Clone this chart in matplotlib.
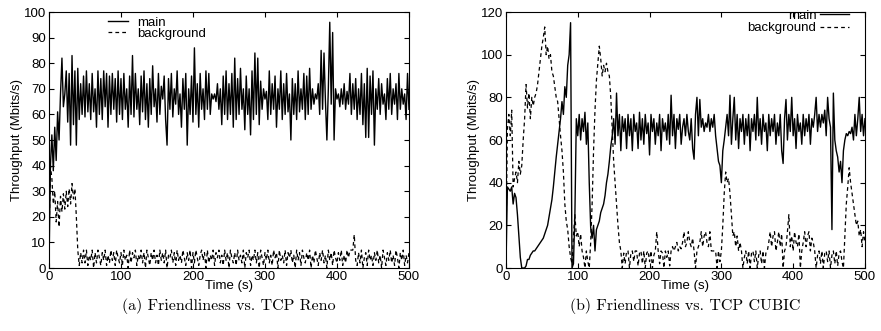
import matplotlib
matplotlib.use("Agg")
import matplotlib.pyplot as plt
import numpy as np

plt.rcParams["font.family"] = ["Liberation Sans", "DejaVu Sans"]

# Throughput samples (Mbits/s), one every 2 s from 0 to 500 s
reno_main = [
    0, 40, 52, 38, 55, 42, 61, 50, 68, 82, 63, 68, 77, 57, 76, 48, 83, 56, 77, 48, 78, 58, 72, 60, 75,
    59, 77, 61, 72, 58, 76, 61, 70, 55, 77, 60, 74, 58, 77, 63, 76, 55, 75, 60, 76, 62, 74, 57, 77, 60,
    74, 58, 76, 62, 70, 55, 75, 60, 83, 59, 76, 62, 70, 56, 75, 61, 77, 58, 72, 55, 74, 60, 79, 63, 70,
    57, 76, 60, 71, 66, 75, 58, 48, 74, 62, 76, 59, 70, 64, 77, 60, 68, 55, 74, 62, 76, 48, 70, 60, 75,
    57, 86, 60, 72, 55, 76, 62, 70, 58, 77, 62, 76, 60, 68, 66, 68, 65, 72, 62, 70, 56, 75, 60, 77, 58,
    72, 60, 76, 55, 82, 58, 74, 60, 78, 62, 70, 54, 75, 60, 70, 52, 77, 58, 84, 60, 82, 56, 73, 62, 70,
    66, 69, 58, 77, 60, 72, 62, 75, 55, 70, 62, 77, 58, 72, 60, 76, 61, 68, 50, 74, 60, 72, 58, 77, 61,
    70, 62, 76, 58, 75, 60, 78, 62, 70, 64, 68, 66, 72, 60, 85, 62, 84, 65, 50, 70, 96, 64, 92, 50, 70,
    66, 68, 63, 70, 64, 72, 62, 69, 64, 76, 60, 72, 62, 74, 58, 70, 60, 76, 56, 72, 51, 78, 51, 75, 60,
    77, 48, 70, 62, 74, 60, 72, 64, 68, 58, 74, 62, 76, 60, 70, 64, 72, 58, 76, 62, 70, 64, 68, 58, 76, 62,
]
reno_bg = [
    10, 40, 35, 25, 30, 18, 26, 16, 28, 22, 29, 23, 30, 24, 31, 25, 33, 27, 31, 20, 7, 1, 6, 2, 7,
    2, 7, 1, 5, 3, 7, 0, 6, 2, 7, 4, 1, 6, 3, 7, 1, 5, 2, 7, 3, 6, 1, 7, 4, 2,
    6, 1, 7, 3, 5, 0, 7, 2, 6, 4, 7, 1, 5, 3, 7, 2, 6, 0, 7, 4, 1, 6, 3, 7, 2,
    5, 1, 7, 3, 6, 2, 7, 0, 5, 4, 7, 2, 6, 1, 7, 3, 5, 2, 7, 4, 1, 6, 3, 7, 0,
    6, 2, 7, 4, 1, 5, 7, 3, 6, 0, 7, 2, 5, 3, 7, 1, 6, 4, 7, 2, 5, 1, 7, 3, 6,
    0, 7, 4, 2, 6, 1, 7, 3, 5, 2, 7, 0, 6, 4, 7, 1, 5, 3, 7, 2, 6, 0, 7, 4, 1,
    6, 3, 7, 2, 5, 1, 7, 4, 6, 0, 7, 3, 5, 2, 7, 1, 6, 4, 7, 2, 5, 0, 7, 3, 6,
    1, 7, 4, 2, 6, 3, 7, 0, 5, 2, 7, 4, 1, 6, 3, 7, 2, 5, 0, 7, 3, 6, 1, 7, 4,
    2, 6, 3, 7, 1, 5, 2, 7, 4, 7, 7, 7, 13, 3, 1, 6, 2, 7, 0, 4, 6, 1, 7, 3, 5,
    1, 6, 3, 7, 2, 5, 0, 7, 4, 1, 6, 3, 7, 2, 5, 1, 7, 4, 0, 6, 3, 7, 1, 5, 2, 6,
]
cubic_main = [
    0, 38, 37, 36, 38, 30, 35, 33, 25, 15, 5, 0, 0, 0, 1, 4, 4, 6, 7, 8, 8, 9, 10, 11, 12,
    13, 14, 16, 18, 20, 24, 28, 32, 38, 45, 52, 58, 64, 70, 78, 72, 85, 80, 95, 100, 115, 0, 2, 25, 70,
    62, 72, 60, 70, 64, 73, 58, 68, 40, 19, 14, 20, 8, 18, 20, 22, 26, 28, 30, 34, 40, 44, 50, 57, 62,
    70, 58, 82, 62, 72, 55, 71, 64, 70, 56, 72, 62, 70, 55, 72, 64, 68, 56, 73, 60, 70, 58, 72, 63, 68,
    53, 72, 64, 70, 58, 68, 62, 72, 55, 70, 64, 68, 60, 72, 58, 81, 62, 72, 56, 70, 65, 72, 58, 66, 70,
    62, 72, 64, 60, 70, 56, 51, 72, 80, 62, 79, 66, 70, 64, 68, 66, 72, 64, 70, 66, 72, 62, 56, 50, 48,
    40, 55, 60, 66, 72, 62, 81, 58, 70, 80, 60, 72, 56, 70, 64, 72, 58, 70, 62, 72, 55, 70, 64, 72, 60,
    80, 62, 70, 58, 72, 64, 68, 55, 72, 62, 70, 64, 72, 58, 68, 62, 72, 55, 49, 70, 79, 60, 72, 64, 80,
    62, 70, 56, 72, 64, 68, 58, 72, 62, 70, 64, 72, 58, 70, 66, 72, 80, 64, 72, 66, 72, 68, 74, 62, 80,
    70, 66, 18, 82, 60, 55, 52, 45, 50, 40, 55, 60, 63, 62, 64, 63, 66, 60, 72, 62, 70, 80, 64, 72, 62, 70,
]
cubic_bg = [
    10, 65, 72, 62, 74, 38, 42, 45, 40, 50, 44, 48, 60, 70, 86, 75, 82, 70, 80, 76, 80, 82, 86, 92, 98,
    104, 108, 113, 100, 104, 98, 100, 92, 90, 85, 80, 78, 70, 62, 55, 45, 30, 22, 18, 10, 5, 2, 15, 25, 15,
    17, 10, 16, 8, 5, 0, 8, 3, 0, 12, 30, 55, 74, 88, 96, 104, 98, 90, 95, 92, 96, 92, 90, 80, 65,
    50, 40, 30, 20, 12, 8, 0, 7, 2, 8, 8, 0, 7, 8, 3, 8, 8, 1, 7, 8, 2, 8, 0, 7, 8,
    3, 8, 0, 6, 8, 17, 8, 2, 8, 7, 0, 8, 5, 8, 1, 8, 10, 8, 10, 12, 8, 10, 9, 12, 17,
    10, 12, 17, 12, 10, 14, 8, 0, 8, 10, 12, 17, 10, 15, 17, 12, 10, 17, 8, 8, 8, 8, 0, 8, 3,
    8, 20, 35, 45, 40, 42, 35, 25, 15, 17, 10, 15, 8, 12, 8, 0, 5, 8, 2, 8, 0, 7, 8, 3, 8,
    0, 6, 8, 2, 8, 0, 7, 8, 12, 17, 10, 15, 17, 8, 12, 17, 10, 16, 0, 8, 10, 17, 25, 10, 15,
    8, 17, 12, 10, 16, 0, 8, 12, 17, 10, 15, 17, 8, 14, 12, 8, 0, 6, 8, 2, 8, 0, 7, 8, 3,
    8, 0, 6, 8, 2, 8, 1, 7, 8, 3, 0, 15, 30, 38, 47, 40, 35, 30, 25, 20, 22, 15, 18, 10, 17, 12,
]

T_END = 500
DASH = (0, (3, 2.5))
FS = 9.5


def draw_panel(ax, main, bg, ymax, ystep, legend_right):
    t_main = np.linspace(0, T_END, len(main))
    t_bg = np.linspace(0, T_END, len(bg))
    ax.plot(t_main, main, color="black", lw=1.0, label="main")
    ax.plot(t_bg, bg, color="black", lw=0.9, linestyle=DASH, label="background")
    ax.set_xlim(0, T_END)
    ax.set_ylim(0, ymax)
    ax.set_xticks(np.arange(0, T_END + 1, 100))
    ax.set_yticks(np.arange(0, ymax + 1, ystep))
    ax.tick_params(direction="in", top=True, right=True, labelsize=FS, length=3.5, pad=2)
    ax.set_xlabel("Time (s)", fontsize=FS, labelpad=-2)
    ax.set_ylabel("Throughput (Mbits/s)", fontsize=FS, labelpad=1)
    if legend_right:
        ax.legend(loc="upper right", bbox_to_anchor=(0.975, 1.035), frameon=False,
                  fontsize=FS, markerfirst=False, labelspacing=0,
                  handlelength=2.2, handletextpad=0.3, borderpad=0)
    else:
        ax.legend(loc="upper left", bbox_to_anchor=(0.145, 1.008), frameon=False,
                  fontsize=FS, labelspacing=-0.1, handlelength=1.5,
                  handletextpad=0.75, borderpad=0)


fig = plt.figure(figsize=(8.81, 3.31), dpi=100)
ax1 = fig.add_axes([0.0556, 0.1903, 0.4086, 0.7734])
ax2 = fig.add_axes([0.5743, 0.1903, 0.4075, 0.7734])

draw_panel(ax1, reno_main, reno_bg, 100, 10, False)
draw_panel(ax2, cubic_main, cubic_bg, 120, 20, True)

fig.text(0.2599, 0.077, "(a) Friendliness vs. TCP Reno", ha="center", va="center",
         fontsize=11.5, family="cmr10")
fig.text(0.778, 0.077, "(b) Friendliness vs. TCP CUBIC", ha="center", va="center",
         fontsize=11.5, family="cmr10")

fig.savefig("out.png", dpi=100)
